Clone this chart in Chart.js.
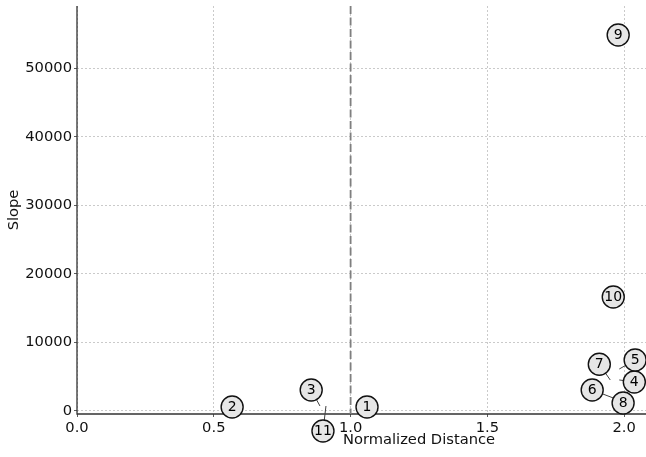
<!DOCTYPE html>
<html>
<head>
<meta charset="utf-8">
<script src="https://cdn.jsdelivr.net/npm/chart.js@4/dist/chart.umd.min.js"></script>
<style>
  html, body { margin: 0; padding: 0; background: #fff; overflow: hidden; }
  #wrap { width: 646px; height: 457px; overflow: hidden; }
</style>
</head>
<body>
<div id="wrap"><canvas id="scatter" width="780" height="457"></canvas></div>
<script>
// point labels and values
var pointIds = ['1', '2', '3', '4', '5', '6', '7', '8', '9', '10', '11'];
var distance = [1.060, 0.567, 0.856, 2.037, 2.040, 1.883, 1.909, 1.996, 1.978, 1.960, 0.899];
var slope = [555, 555, 3040, 4200, 7420, 3040, 6790, 1140, 54860, 16610, -2950];
// where the short leader lines point back to (null = no leader)
var anchorDistance = [null, null, 0.888, 1.982, 1.982, 1.960, 1.949, null, null, null, 0.910];
var anchorSlope = [null, null, 700, 4500, 6100, 1870, 4500, null, null, null, 700];

var xTicks = [0, 0.5, 1.0, 1.5, 2.0];
var yTicks = [0, 10000, 20000, 30000, 40000, 50000];
var thresholdDistance = 1.0;

var fontFamily = '"DejaVu Sans", Verdana, sans-serif';

// spines, dashed threshold line + leader lines under the circles, circled ids on top
var extrasPlugin = {
    id: 'extras',
    beforeDatasetsDraw: function (chart) {
        var ctx = chart.ctx;
        var x = chart.scales.x;
        var y = chart.scales.y;
        var area = chart.chartArea;
        ctx.save();
        // left + bottom spines, solid
        ctx.strokeStyle = '#333';
        ctx.lineWidth = 1.3;
        ctx.setLineDash([]);
        ctx.beginPath();
        ctx.moveTo(area.left, area.top);
        ctx.lineTo(area.left, area.bottom);
        ctx.lineTo(area.right, area.bottom);
        ctx.stroke();

        ctx.strokeStyle = '#7f7f7f';
        ctx.lineWidth = 1.8;
        ctx.setLineDash([8, 3.5]);
        var px = x.getPixelForValue(thresholdDistance);
        ctx.beginPath();
        ctx.moveTo(px, area.top);
        ctx.lineTo(px, area.bottom);
        ctx.stroke();

        ctx.setLineDash([]);
        ctx.strokeStyle = '#404040';
        ctx.lineWidth = 1;
        for (var i = 0; i < pointIds.length; i++) {
            if (anchorDistance[i] === null) continue;
            ctx.beginPath();
            ctx.moveTo(x.getPixelForValue(anchorDistance[i]), y.getPixelForValue(anchorSlope[i]));
            ctx.lineTo(x.getPixelForValue(distance[i]), y.getPixelForValue(slope[i]));
            ctx.stroke();
        }
        ctx.restore();
    },
    afterDatasetsDraw: function (chart) {
        var ctx = chart.ctx;
        var meta = chart.getDatasetMeta(0);
        ctx.save();
        ctx.font = '14px ' + fontFamily;
        ctx.textAlign = 'center';
        ctx.textBaseline = 'middle';
        meta.data.forEach(function (pt, i) {
            // drawn here so that points outside the plot area (11) still show
            ctx.beginPath();
            ctx.arc(pt.x, pt.y, 11, 0, Math.PI * 2);
            ctx.fillStyle = '#e6e6e6';
            ctx.fill();
            ctx.lineWidth = 1.4;
            ctx.strokeStyle = '#111';
            ctx.stroke();
            ctx.fillStyle = '#000';
            ctx.fillText(pointIds[i], pt.x, pt.y + 0.5);
        });
        ctx.restore();
    }
};

var gridOpts = {
    color: '#bdbdbd',
    lineWidth: 0.8,
    drawTicks: true,
    tickLength: 3,
    tickColor: '#333',
    tickBorderDash: []
};

function initScatter() {
    var ctx = document.getElementById('scatter').getContext('2d');
    var points = distance.map(function (d, i) { return { x: d, y: slope[i] }; });

    new Chart(ctx, {
        type: 'scatter',
        data: {
            datasets: [{
                data: points,
                pointRadius: 0,
                pointHoverRadius: 0,
                clip: false
            }]
        },
        plugins: [extrasPlugin],
        options: {
            responsive: false,
            animation: false,
            events: [],
            layout: { padding: { top: 6, right: 19, left: 0, bottom: 0 } },
            plugins: {
                legend: { display: false },
                tooltip: { enabled: false }
            },
            scales: {
                x: {
                    type: 'linear',
                    min: 0,
                    max: 2.5,
                    afterBuildTicks: function (scale) {
                        scale.ticks = xTicks.map(function (v) { return { value: v }; });
                    },
                    afterFit: function (scale) {
                        scale.height = 43;
                        scale.paddingLeft = 0;
                        scale.paddingRight = 0;
                    },
                    grid: gridOpts,
                    border: { display: false, dash: [2, 2] },
                    ticks: {
                        padding: 2,
                        color: '#111',
                        maxRotation: 0,
                        font: { family: fontFamily, size: 14.7 },
                        callback: function (v) { return Number(v).toFixed(1); }
                    },
                    title: {
                        display: true,
                        text: 'Normalized Distance',
                        color: '#111',
                        padding: { top: 0, bottom: 8 },
                        font: { family: fontFamily, size: 14.7 }
                    }
                },
                y: {
                    type: 'linear',
                    min: -470,
                    max: 59100,
                    afterBuildTicks: function (scale) {
                        scale.ticks = yTicks.map(function (v) { return { value: v }; });
                    },
                    afterFit: function (scale) {
                        scale.width = 77;
                        scale.paddingTop = 0;
                        scale.paddingBottom = 0;
                    },
                    grid: gridOpts,
                    border: { display: false, dash: [2, 2] },
                    ticks: {
                        padding: 2,
                        color: '#111',
                        font: { family: fontFamily, size: 14.7 },
                        callback: function (v) { return String(v); }
                    },
                    title: {
                        display: true,
                        text: 'Slope',
                        color: '#111',
                        padding: { top: 5, bottom: 0 },
                        font: { family: fontFamily, size: 14.7 }
                    }
                }
            }
        }
    });
}

initScatter();
</script>
</body>
</html>
